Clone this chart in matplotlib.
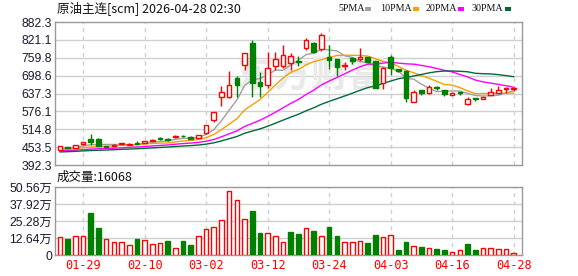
import matplotlib
matplotlib.use("Agg")
import matplotlib.pyplot as plt
import numpy as np
from matplotlib.patches import Rectangle

plt.rcParams['font.family'] = ['Liberation Sans', 'Noto Sans CJK SC', 'DejaVu Sans']

# ---------------- data ----------------
title = "原油主连[scm] 2026-04-28 02:30"
tick_pos = [3, 11, 19, 27, 35, 43, 51, 59]
tick_labels = ["01-29", "02-10", "03-02", "03-12", "03-24", "04-03", "04-16", "04-28"]
price_ticks = [392.3, 453.5, 514.8, 576.1, 637.3, 698.6, 759.8, 821.1, 882.3]
vol_ticks = [0, 126400, 252800, 379200, 505600]
vol_tick_labels = ["0", "12.64万", "25.28万", "37.92万", "50.56万"]

opens = [444, 453, 452, 463, 481, 480, 457, 459, 464, 462, 467, 469, 476, 486, 482,
         489, 492, 489, 484, 501, 546, 626, 626, 689, 735, 811, 676, 666, 733, 733,
         741, 748, 792, 811, 789, 762, 754, 733, 759, 757, 761, 749, 674, 763, 720,
         716, 607, 649, 638, 661, 649, 633, 641, 600, 622, 618, 632, 640, 652, 654]
highs = [458, 455, 462, 472, 497, 484, 458, 464, 469, 467, 474, 476, 480, 487, 484,
         494, 494, 490, 496, 531, 575, 664, 714, 697, 776, 821, 712, 780, 780, 803,
         775, 766, 826, 815, 845, 803, 756, 746, 762, 792, 763, 750, 729, 769, 722,
         718, 648, 650, 666, 663, 650, 641, 642, 624, 623, 627, 655, 664, 660, 660]
lows = [443, 449, 451, 462, 461, 456, 453, 457, 462, 461, 463, 468, 475, 479, 475,
        486, 488, 480, 482, 499, 538, 594, 621, 624, 718, 624, 624, 655, 718, 724,
        718, 733, 786, 775, 783, 721, 697, 718, 739, 748, 743, 655, 653, 701, 710,
        609, 607, 632, 636, 650, 630, 632, 632, 598, 611, 617, 632, 640, 640, 647]
closes = [457, 451, 461, 471, 470, 457, 455, 461, 466, 465, 465, 474, 478, 481, 477,
          491, 490, 482, 494, 529, 573, 641, 666, 666, 775, 672, 664, 724, 754, 769,
          766, 744, 820, 778, 838, 752, 729, 736, 750, 762, 746, 657, 726, 726, 716,
          623, 641, 640, 658, 655, 636, 640, 639, 618, 620, 626, 644, 649, 657, 656]
# closes of the 29 sessions before the window (for moving averages)
hist_closes = [425, 428, 424, 430, 433, 429, 427, 431, 435, 432, 430, 434, 437, 433, 436,
               438, 441, 437, 435, 440, 442, 439, 443, 446, 441, 444, 449, 446, 450]
volumes = [131000, 119000, 141000, 141000, 312000, 203000, 119000, 99000, 99000, 74000,
           119000, 112000, 82000, 92000, 104000, 52000, 104000, 74000, 141000, 196000,
           208000, 260000, 476000, 409000, 270000, 330000, 164000, 164000, 141000, 97000,
           171000, 156000, 201000, 178000, 141000, 208000, 141000, 97000, 97000, 104000,
           89000, 149000, 134000, 149000, 37000, 97000, 67000, 59000, 52000, 45000,
           37000, 22000, 37000, 82000, 37000, 52000, 52000, 45000, 45000, 16068]
vol_up = [1, 0, 1, 1, 0, 0, 1, 1, 1, 1, 0, 1, 1, 1, 0, 1, 0, 0, 1, 1,
          1, 1, 1, 1, 1, 0, 0, 1, 1, 1, 0, 0, 1, 0, 1, 0, 0, 1, 1, 1,
          0, 0, 1, 1, 0, 0, 1, 0, 1, 0, 0, 1, 1, 0, 0, 1, 1, 1, 1, 1]
ma_periods = [5, 10, 20, 30]
ma_names = ["5PMA", "10PMA", "20PMA", "30PMA"]
ma_colors = ["#a0a0a0", "#f5a100", "#ff00ff", "#006b36"]

# ---------------- figure ----------------
W, H = 578, 276
fig = plt.figure(figsize=(W / 100, H / 100), dpi=100)

def fx(px):
    return px / W

def fy(py):
    return 1 - py / H

ax = fig.add_axes([fx(55), fy(165), fx(522 - 55), (165 - 22) / H])
axv = fig.add_axes([fx(55), fy(255), fx(522 - 55), (255 - 187) / H])

n = len(closes)
x = np.arange(n)
RED = "#ff0000"
GREEN = "#008000"
GRID = "#d0d0d0"
SPINE = "#999999"
LBL = "#1a1a2e"

for a in (ax, axv):
    a.set_xlim(-0.65, 60.08)
    for s in a.spines.values():
        s.set_color(SPINE)
        s.set_linewidth(1.0)
    for p in tick_pos:
        a.axvline(p, color=GRID, lw=1.0, ls=(0, (3, 3)), zorder=0)
    a.tick_params(axis='both', length=0)

# main price panel
ax.set_ylim(price_ticks[0], price_ticks[-1])
ax.set_yticks(price_ticks)
ax.set_yticklabels([f"{v:.1f}" for v in price_ticks], fontsize=8.8, color=LBL)
ax.tick_params(axis='y', pad=2)
for v in price_ticks[1:-1]:
    ax.axhline(v, color=GRID, lw=1.0, zorder=0)
ax.set_xticks([])

ax.text(0.55, 0.62, "东方财富", transform=ax.transAxes, ha='center', va='center',
        fontsize=27, color="#e9e9e9", fontweight='bold', style='italic',
        family=['Noto Sans CJK SC'], zorder=0.5)

allc = np.array(hist_closes + closes, dtype=float)
off = len(hist_closes)
for per, col in zip(ma_periods, ma_colors):
    ma = np.array([allc[off + i - per + 1: off + i + 1].mean() for i in range(n)])
    ax.plot(x, ma, color=col, lw=1.0, zorder=2)

bw = 0.6
for i in range(n):
    o, h, l, c = opens[i], highs[i], lows[i], closes[i]
    up = c >= o
    col = RED if up else GREEN
    ax.vlines(i, l, h, color=col, lw=1.0, zorder=3)
    body = max(abs(c - o), 1.2)
    ax.add_patch(Rectangle((i - bw / 2, min(o, c)), bw, body,
                           facecolor="white" if up else GREEN,
                           edgecolor=col, lw=1.0, zorder=4))

# volume panel
axv.set_ylim(0, vol_ticks[-1])
axv.set_yticks(vol_ticks)
axv.set_yticklabels(vol_tick_labels, fontsize=8.8, color=LBL,
                    family=['Liberation Sans', 'Noto Sans CJK SC'])
axv.tick_params(axis='y', pad=2)
for v in vol_ticks[1:-1]:
    axv.axhline(v, color=GRID, lw=1.0, zorder=0)
for i in range(n):
    if vol_up[i]:
        axv.bar(i, volumes[i], width=bw, facecolor="white", edgecolor=RED, lw=1.0, zorder=3)
    else:
        axv.bar(i, volumes[i], width=bw, facecolor=GREEN, edgecolor=GREEN, lw=1.0, zorder=3)
axv.set_xticks(tick_pos)
axv.set_xticklabels(tick_labels, fontsize=8.6, color=RED, family=['DejaVu Sans Mono'])
axv.tick_params(axis='x', pad=3)

# texts
fig.text(fx(57), fy(8), title, fontsize=9, va='center', ha='left', color="#111111",
         family=['Noto Sans CJK SC', 'DejaVu Sans'])
fig.text(fx(57), fy(177), f"成交量:{volumes[-1]}", fontsize=9, va='center', ha='left',
         color="#111111", family=['Noto Sans CJK SC', 'DejaVu Sans'])

leg_text_x = [338, 380, 426, 472]
leg_sq_x = [365, 413, 458, 505]
for name, col, tx, sx in zip(ma_names, ma_colors, leg_text_x, leg_sq_x):
    fig.text(fx(tx), fy(8.5), name, fontsize=7.2, va='center', ha='left', color="#111111",
             family=['Liberation Serif'])
    fig.patches.append(Rectangle((fx(sx), fy(10.5)), fx(6), 4 / H, facecolor=col,
                                 edgecolor='none', transform=fig.transFigure, figure=fig))

fig.savefig("out.png", dpi=100)
